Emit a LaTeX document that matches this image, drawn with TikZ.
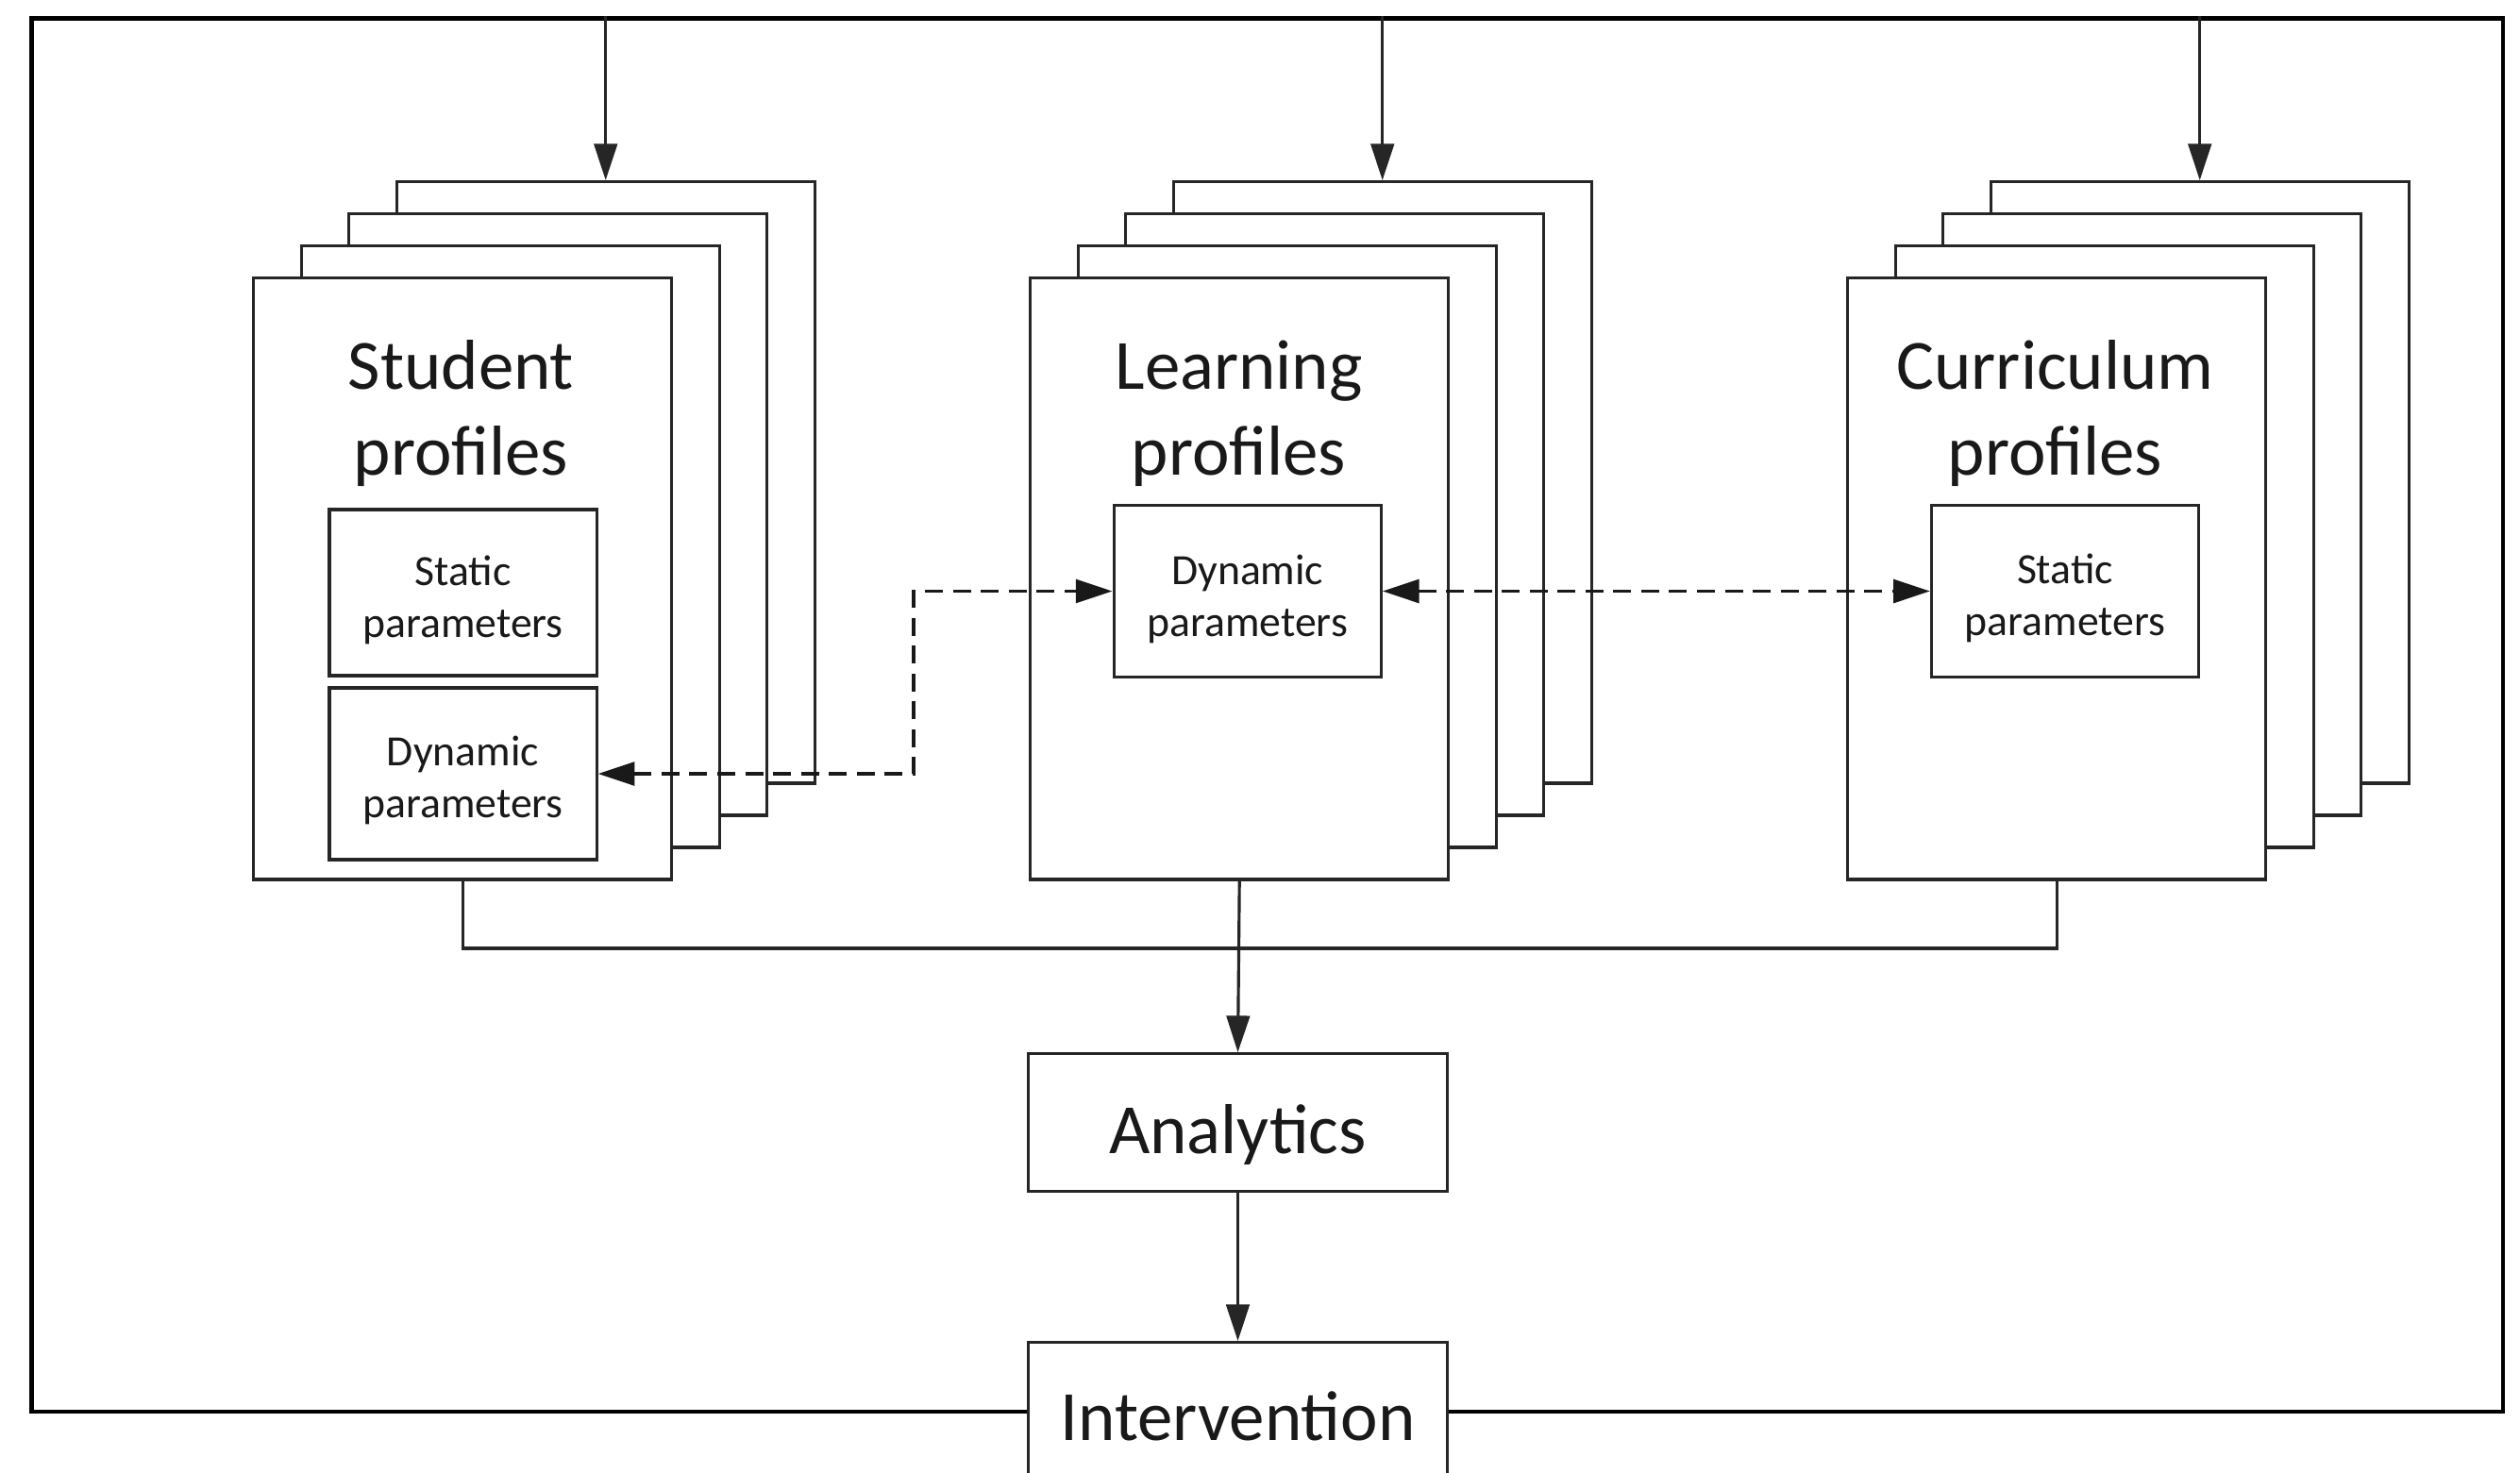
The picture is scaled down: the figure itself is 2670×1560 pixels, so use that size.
\documentclass[tikz,border=0pt]{standalone}
\usepackage{fontspec}
\setmainfont{Carlito}
\usetikzlibrary{arrows.meta}
\newcommand{\twol}[2]{\begin{tabular}[t]{@{}c@{}}#1\\#2\end{tabular}}
\begin{document}
\begin{tikzpicture}[x=0.01cm,y=-0.01cm,
  ln/.style={line width=0.9pt, draw=black!85},
  page/.style={ln, fill=white, anchor=north west, minimum width=4.43cm, minimum height=6.37cm, inner sep=0pt},
  pbox/.style={ln, fill=white, minimum width=2.83cm, inner sep=0pt},
  bigtxt/.style={font=\fontsize{21.3pt}{25.8pt}\selectfont, inner sep=0pt, anchor=base, text=black!90},
  smalltxt/.style={font=\fontsize{13pt}{15.65pt}\selectfont, inner sep=0pt, anchor=base, text=black!90},
  tipA/.tip={Triangle[length=11pt,width=7pt]},
  arr/.style={ln, -tipA},
  dsh/.style={line width=1.1pt, draw=black!90, dash pattern=on 5.4pt off 3pt},
  ]
\useasboundingbox (0,0) rectangle (2670,1560);
\clip (0,0) rectangle (2670,1560);

% outer frame
\node[draw=black, line width=1.3pt, anchor=north west, minimum width=26.17cm, minimum height=14.76cm, inner sep=0pt] (frame) at (31,17) {};

% stacks of pages
\foreach \m/\xx in {s/267,l/1090,c/1956} {
  \foreach \k in {3,2,1,0} {
    \node[page] (\m p\k) at ({\xx+50.5*\k},{293-34*\k}) {};
  }
}

% arrows from the frame top
\foreach \m in {s,l,c} {
  \draw[arr] (\m p3.north |- frame.north) -- (\m p3.north);
}

% titles
\node[bigtxt] (st) at (488.5,412.5) {\twol{Student}{profiles}};
\node[bigtxt] (lt) at (1312.5,412.5) {\twol{Learning}{profiles}};
\node[bigtxt] (ct) at (2177.5,412.5) {\twol{Curriculum}{profiles}};

% parameter boxes
\node[pbox, minimum height=1.76cm] (ss) at (490.5,628) {};
\node[pbox, minimum height=1.82cm] (sd) at (490.5,820) {};
\node[pbox, minimum height=1.82cm] (ld) at (1321.7,626.5) {};
\node[pbox, minimum height=1.82cm] (cs) at (2188,626.5) {};
\node[smalltxt] (sst) at (490.5,620.4) {\twol{Static}{parameters}};
\node[smalltxt] (sdt) at (490.5,811.7) {\twol{Dynamic}{parameters}};
\node[smalltxt] (ldt) at (1321.7,619.3) {\twol{Dynamic}{parameters}};
\node[smalltxt] (cst) at (2188,618.5) {\twol{Static}{parameters}};

% dashed links
\coordinate (dk) at (968,0);
\draw[dsh, tipA-tipA] (sd.east) -| (dk |- ld.west) -- (ld.west);
\draw[dsh, tipA-tipA] (ld.east) -- (cs.west);

% bottom bus
\coordinate (bus) at (0,1005);
\draw[ln] (sp0.south) -- (sp0.south |- bus) -- (cp0.south |- bus) -- (cp0.south);

% analytics and intervention
\node[ln, fill=white, minimum width=4.43cm, minimum height=1.456cm, inner sep=0pt] (ana) at (1311.5,1189.5) {};
\node[bigtxt] (anat) at (1311.5,1222.7) {Analytics};
\node[ln, fill=white, anchor=north, minimum width=4.43cm, minimum height=2.5cm, inner sep=0pt] (int) at (1311.5,1421) {};
\node[bigtxt] (intt) at (1311.5,1526.7) {Intervention};

\draw[arr] (lp0.south) -- (ana.north);
\draw[arr] (ana.south) -- (int.north);
\end{tikzpicture}
\end{document}
